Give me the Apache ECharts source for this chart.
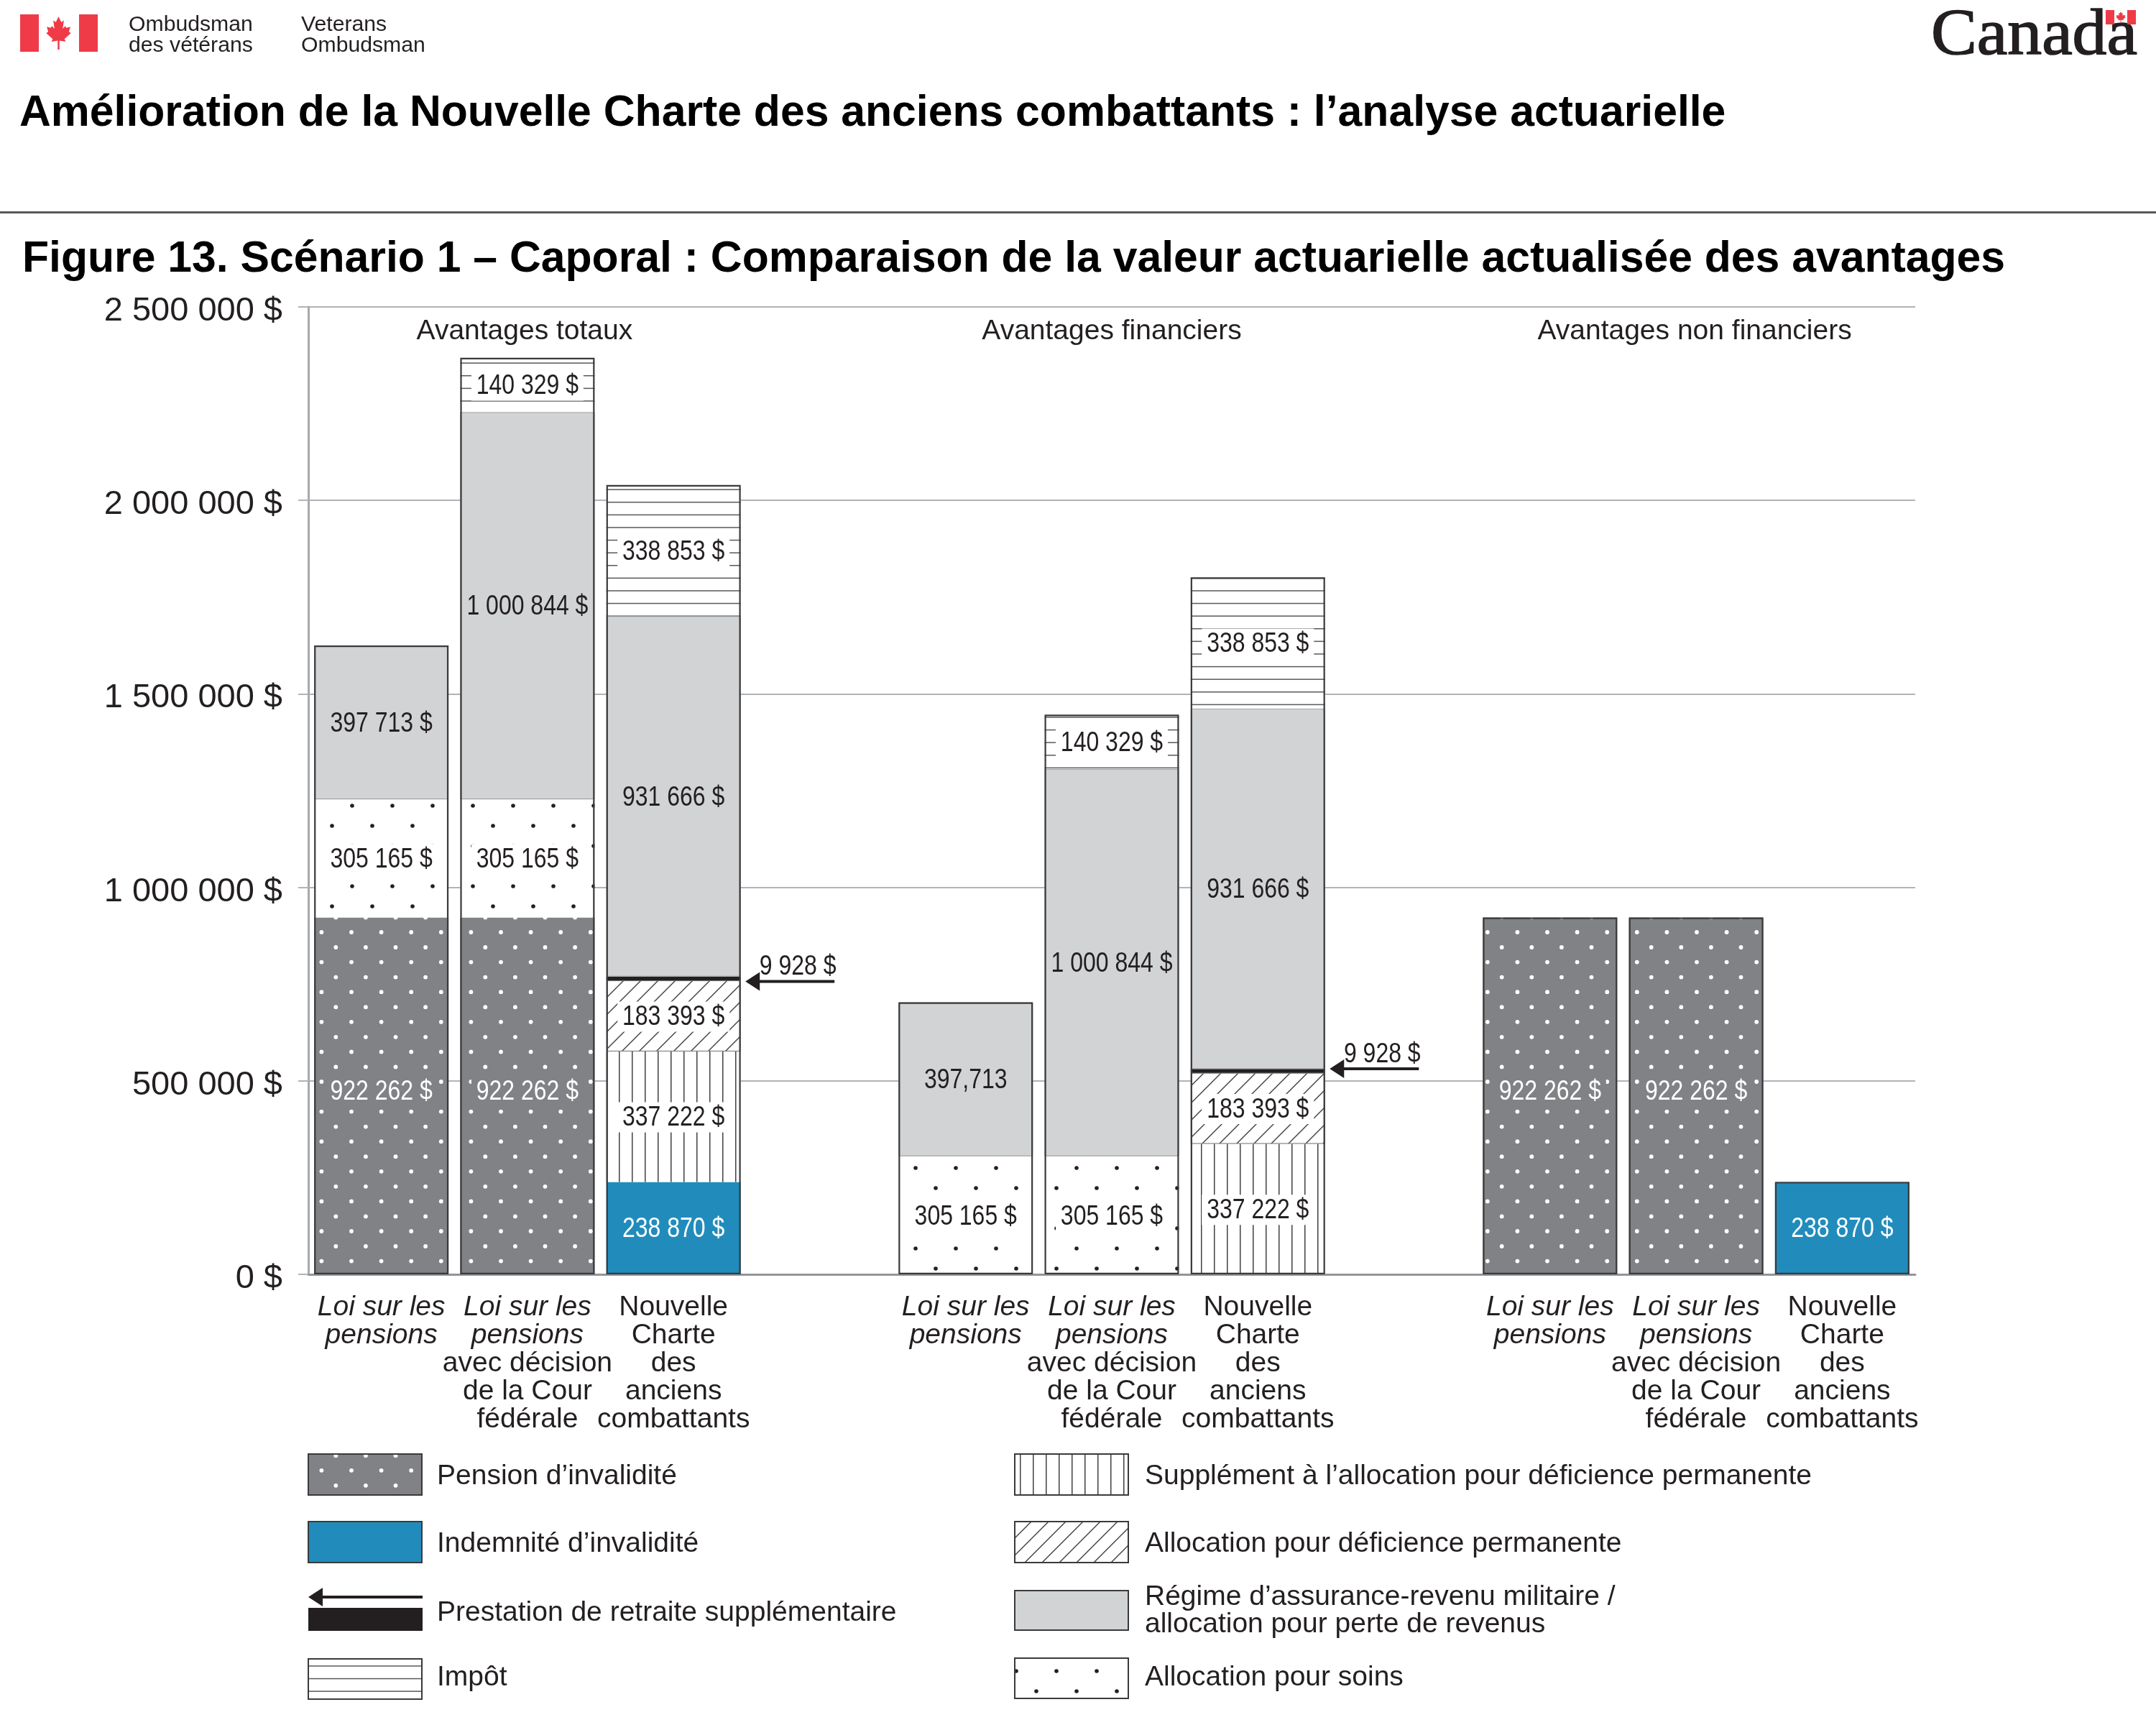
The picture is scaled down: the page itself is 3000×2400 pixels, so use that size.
<!DOCTYPE html>
<html lang="fr"><head><meta charset="utf-8">
<style>html,body{margin:0;padding:0;background:#fff}#c{width:3000px;height:2400px}</style>
<script src="https://cdn.jsdelivr.net/npm/echarts@6/dist/echarts.min.js"></script>
</head><body><div id="c"></div>
<script>
// ---------- data ----------
const LP = 'Loi sur les pensions';
const LPC = 'Loi sur les pensions avec décision de la Cour fédérale';
const NC = 'Nouvelle Charte des anciens combattants';
const categories = [LP, LPC, NC, '', LP, LPC, NC, '', LP, LPC, NC];
const pensionInvalidite = [922262, 922262, null, null, null, null, null, null, 922262, 922262, null];
const indemniteInvalidite = [null, null, 238870, null, null, null, null, null, null, null, 238870];
const supplementAllocation = [null, null, 337222, null, null, null, 337222, null, null, null, null];
const allocationDeficience = [null, null, 183393, null, null, null, 183393, null, null, null, null];
const prestationRetraite = [null, null, 9928, null, null, null, 9928, null, null, null, null];
const allocationSoins = [305165, 305165, null, null, 305165, 305165, null, null, null, null, null];
const assuranceRevenu = [397713, 1000844, 931666, null, 397713, 1000844, 931666, null, null, null, null];
const impot = [null, 140329, 338853, null, null, 140329, 338853, null, null, null, null];
const yTicks = [0, 500000, 1000000, 1500000, 2000000, 2500000];
const groupHeaders = ['Avantages totaux', 'Avantages financiers', 'Avantages non financiers'];
const groupHeaderSlots = [1, 5, 9];
const headerLevel = 2444000;
const retraiteSlots = [2, 6];
const retraiteLabel = '9 928 $';
const pageTitle = 'Amélioration de la Nouvelle Charte des anciens combattants : l’analyse actuarielle';
const figureTitle = 'Figure 13. Scénario 1 – Caporal : Comparaison de la valeur actuarielle actualisée des avantages';
const legendLeft = ['Pension d’invalidité', 'Indemnité d’invalidité', 'Prestation de retraite supplémentaire', 'Impôt'];
const legendRight = ['Supplément à l’allocation pour déficience permanente', 'Allocation pour déficience permanente', 'Régime d’assurance-revenu militaire /\nallocation pour perte de revenus', 'Allocation pour soins'];

// ---------- styles ----------
const INK = '#231f20', GREY = '#808285', LIGHT = '#d1d3d4', BLUE = '#218cbc', RED = '#ef3b47', EDGE = '#3a3a3c';
const SANS = '"Liberation Sans", Arial, sans-serif';
function tile(w, h, draw) {
  const c = document.createElement('canvas'); c.width = w; c.height = h;
  draw(c.getContext('2d'), w, h); return { image: c, repeat: 'repeat' };
}
function dotTile(size, bg, fg, r, pts) {
  return tile(size, size, g => {
    g.fillStyle = bg; g.fillRect(0, 0, size, size); g.fillStyle = fg;
    pts.forEach(p => [-size, 0, size].forEach(dx => [-size, 0, size].forEach(dy => {
      g.beginPath(); g.arc(p[0] + dx, p[1] + dy, r, 0, 7); g.fill();
    })));
  });
}
const pensionPts = [];
for (let a = 0; a < 5; a++) for (let b = 0; b < 5; b++) {
  pensionPts.push([31.4 + a * 41.6, 7.4 + b * 41.6]);
  pensionPts.push([9.7 + a * 41.6, 28.4 + b * 41.6]);
}
const fillPension = dotTile(208, GREY, '#ffffff', 2.9, pensionPts);
const fillSoins = dotTile(56, '#ffffff', INK, 2.8, [[42, 1], [14, 29]]);
const fillVert = tile(18, 18, g => { g.fillStyle = '#fff'; g.fillRect(0, 0, 18, 18); g.fillStyle = '#414042'; g.fillRect(15, 0, 1.5, 18); });
const fillHoriz = tile(88, 88, g => {
  g.fillStyle = '#fff'; g.fillRect(0, 0, 88, 88); g.fillStyle = '#58595b';
  [11.6, 29.2, 46.8, 64.4, 82].forEach(y => g.fillRect(0, y, 88, 1.5));
});
const fillDiag = tile(24, 24, g => {
  g.fillStyle = '#fff'; g.fillRect(0, 0, 24, 24); g.strokeStyle = '#414042'; g.lineWidth = 1.4;
  [[-12, 12, 12, -12], [0, 24, 24, 0], [12, 36, 36, 12]].forEach(l => { g.beginPath(); g.moveTo(l[0], l[1]); g.lineTo(l[2], l[3]); g.stroke(); });
});

const fmt = v => String(v).replace(/\B(?=(\d{3})+(?!\d))/g, ' ') + ' $';
const labelOverride = { 4: '397,713' };

// Bottom-to-top stacking order with each segment's look.
const stackDefs = [
  { name: 'Pension d’invalidité', data: pensionInvalidite, fill: fillPension, fg: '#fff', bg: GREY, dy: -7 },
  { name: 'Indemnité d’invalidité', data: indemniteInvalidite, fill: BLUE, fg: '#fff', bg: null },
  { name: 'Supplément à l’allocation pour déficience permanente', data: supplementAllocation, fill: fillVert, fg: INK, bg: '#fff' },
  { name: 'Allocation pour déficience permanente', data: allocationDeficience, fill: fillDiag, fg: INK, bg: '#fff', item: { borderColor: '#6d6e71', borderWidth: 1 } },
  { name: 'Prestation de retraite supplémentaire', data: prestationRetraite, fill: INK, noLabel: true },
  { name: 'Allocation pour soins', data: allocationSoins, fill: fillSoins, fg: INK, bg: '#fff' },
  { name: 'Régime d’assurance-revenu militaire / allocation pour perte de revenus', data: assuranceRevenu, fill: LIGHT, fg: INK, bg: null, override: labelOverride, item: { borderColor: '#939598', borderWidth: 1 } },
  { name: 'Impôt', data: impot, fill: fillHoriz, fg: INK, bg: '#fff' }
];
const BAR = '92%';
const barSeries = stackDefs.map(d => ({
  name: d.name, type: 'bar', stack: 'a', barWidth: BAR, barGap: '-100%', data: d.data, z: 2,
  itemStyle: Object.assign({ color: d.fill }, d.item || {})
}));
const totals = categories.map((_, i) => stackDefs.reduce((a, d) => a + (d.data[i] || 0), 0) || null);

// One text record per segment, placed at the middle of the segment.
const valueLabels = [];
categories.forEach((_, i) => {
  let base = 0;
  stackDefs.forEach(d => {
    const v = d.data[i];
    if (!v) return;
    if (!d.noLabel) valueLabels.push({
      slot: i, mid: base + v / 2, text: (d.override && d.override[i]) || fmt(v), fg: d.fg, bg: d.bg, dy: d.dy || 0
    });
    base += v;
  });
});
function retraiteMid(i) {
  return (indemniteInvalidite[i] || 0) + supplementAllocation[i] + allocationDeficience[i] + prestationRetraite[i] / 2;
}
const NARROW_FONT = '39px ' + SANS;
const SQUEEZE = 0.82;

const catLabel = c => {
  if (c === LP) return '{i|Loi sur les}\n{i|pensions}';
  if (c === LPC) return '{i|Loi sur les}\n{i|pensions}\n{r|avec décision}\n{r|de la Cour}\n{r|fédérale}';
  if (c === NC) return '{r|Nouvelle}\n{r|Charte}\n{r|des}\n{r|anciens}\n{r|combattants}';
  return '';
};
const headerShift = [-4, 0, -2];
const arrowShift = [4, -3];

const series = barSeries.concat([
  { name: 'contour', type: 'bar', barWidth: BAR, barGap: '-100%', data: totals, silent: true, z: 3,
    itemStyle: { color: 'rgba(0,0,0,0)', borderColor: EDGE, borderWidth: 2.2 } },
  { name: 'valeurs', type: 'custom', silent: true, z: 4, clip: false,
    data: valueLabels.map(l => [l.slot, l.mid]),
    renderItem: (params, api) => {
      const l = valueLabels[params.dataIndex];
      const c = api.coord([api.value(0), api.value(1)]);
      const y = c[1] + 2 + l.dy;
      const kids = [];
      if (l.bg) kids.push({ type: 'rect', shape: { x: c[0] - 78, y: y - 22, width: 156, height: 42 }, style: { fill: l.bg } });
      kids.push({ type: 'text', x: c[0], y, scaleX: SQUEEZE, style: { text: l.text, fill: l.fg, font: NARROW_FONT, align: 'center', verticalAlign: 'middle' } });
      return { type: 'group', children: kids };
    } },
  { name: 'en-têtes', type: 'scatter', symbolSize: 0, silent: true, z: 4, itemStyle: { opacity: 1 },
    data: groupHeaderSlots.map((s, i) => ({ value: [s, headerLevel], name: groupHeaders[i],
      label: { offset: [headerShift[i], 4] } })),
    label: { show: true, position: 'inside', formatter: p => p.name, color: INK, fontFamily: SANS, fontSize: 39 } },
  { name: 'prestation', type: 'custom', silent: true, z: 5, clip: false,
    data: retraiteSlots.map(s => [s, retraiteMid(s)]),
    renderItem: (params, api) => {
      const c = api.coord([api.value(0), api.value(1)]);
      const x = c[0], y = c[1] + arrowShift[params.dataIndex];
      return { type: 'group', children: [
        { type: 'rect', shape: { x: x + 116, y: y - 2, width: 108, height: 4 }, style: { fill: INK } },
        { type: 'polygon', shape: { points: [[x + 100, y], [x + 120, y - 13], [x + 120, y + 13]] }, style: { fill: INK } },
        { type: 'text', x: x + 173, y: y - 20, scaleX: SQUEEZE, style: { text: retraiteLabel, fill: INK, font: NARROW_FONT, align: 'center', verticalAlign: 'middle' } }
      ] };
    } }
]);

// ---------- page furniture ----------
const leaf = [[50,0],[41,17],[32,12],[36,37],[27,28],[24,34],[10,31],[15,46],[8,50],[30,68],[26,76],[47,73],[47,100],[53,100],[53,73],[74,76],[70,68],[92,50],[85,46],[90,31],[76,34],[73,28],[64,37],[68,12],[59,17]];
const leafAt = (x, y, w, h) => ({ type: 'polygon', silent: true, shape: { points: leaf.map(p => [x + p[0] * w / 100, y + p[1] * h / 100]) }, style: { fill: RED } });
const box = (x, y, w, h, fill) => ({ type: 'rect', silent: true, shape: { x, y, width: w, height: h }, style: { fill } });
const txt = (x, y, text, font, fill, extra, el) => Object.assign({ type: 'text', silent: true, x, y, style: Object.assign({ text, font, fill: fill || INK, verticalAlign: 'middle', align: 'left' }, extra || {}) }, el || {});
const swatch = (x, y, w, h, fill) => ({ type: 'rect', silent: true, shape: { x, y, width: w, height: h }, style: { fill, stroke: EDGE, lineWidth: 2 } });

const LEG = '39px ' + SANS, SMALL = '30.2px ' + SANS;
const LX = 608, RX = 1593;
const graphics = [
  box(28, 20, 26, 52, RED), box(110, 20, 26, 52, RED), leafAt(61, 23, 41, 46),
  txt(179, 35, 'Ombudsman', SMALL), txt(179, 64, 'des vétérans', SMALL),
  txt(419, 35, 'Veterans', SMALL), txt(419, 64, 'Ombudsman', SMALL),
  txt(2687, 51, 'Canada', '92px "Liberation Serif", serif', INK, { stroke: INK, lineWidth: 1.6 }, { scaleX: 1.04 }),
  box(2930, 14, 12, 20, RED), box(2960, 14, 12, 20, RED), leafAt(2943, 16, 16, 16),
  txt(27, 158, pageTitle, 'bold 60.7px ' + SANS, '#000'),
  box(0, 294, 3000, 3, '#58595b'),
  txt(31, 361, figureTitle, 'bold 60.7px ' + SANS, '#000'),
  // left legend
  swatch(429, 2023, 158, 57, fillPension), txt(LX, 2054, legendLeft[0], LEG),
  swatch(429, 2117, 158, 57, BLUE), txt(LX, 2148, legendLeft[1], LEG),
  box(442, 2220, 146, 4, INK), { type: 'polygon', silent: true, shape: { points: [[429, 2222], [449, 2209], [449, 2235]] }, style: { fill: INK } },
  box(429, 2237, 159, 32, INK), txt(LX, 2244, legendLeft[2], LEG),
  swatch(429, 2308, 158, 56, fillHoriz), txt(LX, 2334, legendLeft[3], LEG),
  // right legend
  swatch(1412, 2023, 158, 57, fillVert), txt(RX, 2054, legendRight[0], LEG),
  swatch(1412, 2117, 158, 57, fillDiag), txt(RX, 2148, legendRight[1], LEG),
  swatch(1412, 2213, 158, 55, LIGHT), txt(RX, 2222, legendRight[2].split('\n')[0], LEG), txt(RX, 2260, legendRight[2].split('\n')[1], LEG),
  swatch(1412, 2307, 158, 56, fillSoins), txt(RX, 2334, legendRight[3], LEG)
];

const chart = echarts.init(document.getElementById('c'), null, { renderer: 'canvas', width: 3000, height: 2400 });
chart.setOption({
  animation: false,
  backgroundColor: '#fff',
  grid: { left: 429, right: 335, top: 427, bottom: 627 },
  xAxis: {
    type: 'category', data: categories.map((c, i) => c ? c + '#' + i : ' '.repeat(i + 1)),
    axisLine: { show: true, lineStyle: { color: '#939598', width: 3 } }, axisTick: { show: false },
    axisLabel: {
      interval: 0, margin: 27, hideOverlap: false, color: INK,
      formatter: (v, i) => catLabel(categories[i]),
      rich: {
        i: { fontFamily: SANS, fontSize: 39, fontStyle: 'italic', lineHeight: 39, color: INK, align: 'center' },
        r: { fontFamily: SANS, fontSize: 39, lineHeight: 39, color: INK, align: 'center' }
      }
    }
  },
  yAxis: {
    type: 'value', min: yTicks[0], max: yTicks[yTicks.length - 1], interval: yTicks[1] - yTicks[0],
    axisLine: { show: true, lineStyle: { color: '#a7a9ac', width: 3 } },
    axisTick: { show: true, length: 14, lineStyle: { color: '#b1b3b6', width: 2 } },
    splitLine: { show: true, lineStyle: { color: '#b1b3b6', width: 2 } },
    axisLabel: { margin: 36, color: INK, fontFamily: SANS, fontSize: 47, verticalAlign: 'top', lineHeight: 12, formatter: fmt }
  },
  series, graphic: graphics
});
</script></body></html>
